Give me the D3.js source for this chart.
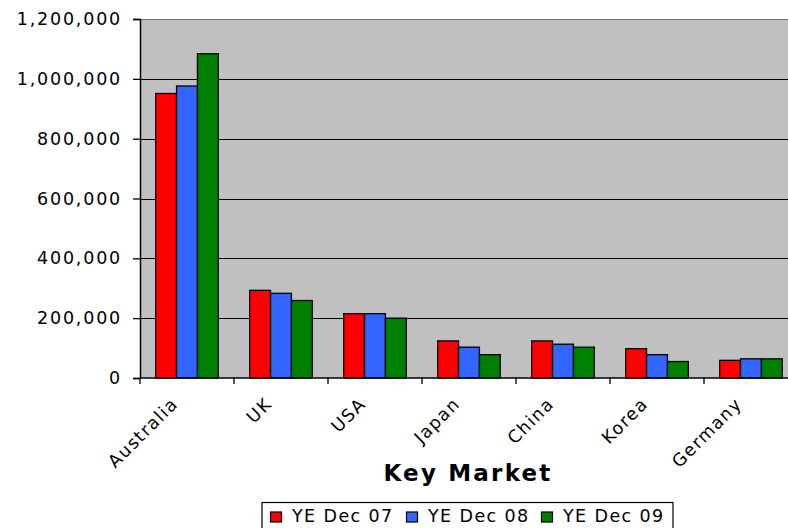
<!DOCTYPE html>
<html>
<head>
<meta charset="utf-8">
<script src="https://cdn.jsdelivr.net/npm/d3@7"></script>
<style>
  html, body { margin: 0; padding: 0; background: #fff; }
  svg { display: block; font-family: "DejaVu Sans", Verdana, sans-serif; }
</style>
</head>
<body>
<svg id="chart" width="788" height="528"></svg>
<script>
// Visitor arrivals by key market, three calendar years
const categories = ["Australia", "UK", "USA", "Japan", "China", "Korea", "Germany"];
const seriesNames = ["YE Dec 07", "YE Dec 08", "YE Dec 09"];
const dec07 = [951000, 293000, 215000, 124000, 124000, 98000, 59000];
const dec08 = [976000, 283000, 215000, 103000, 113000, 78000, 64000];
const dec09 = [1084000, 259000, 200000, 78000, 103000, 55000, 64000];
const yTicks = [0, 200000, 400000, 600000, 800000, 1000000, 1200000];
const colors = ["#ff0000", "#3366ff", "#008000"];

const seriesValues = [dec07, dec08, dec09];

const svg = d3.select("#chart");
const plotLeft = 140, plotRight = 798, plotTop = 19, plotBottom = 378;

const x = d3.scaleBand().domain(categories).range([plotLeft, plotRight])
  .paddingInner(1 / 3).paddingOuter(1 / 6);
const xs = d3.scaleBand().domain(seriesNames).range([0, x.bandwidth()]);
const y = d3.scaleLinear().domain([0, 1200000]).range([plotBottom, plotTop]);

// plot area background
svg.append("rect")
  .attr("x", plotLeft).attr("y", plotTop)
  .attr("width", plotRight - plotLeft).attr("height", plotBottom - plotTop)
  .attr("fill", "#c0c0c0");

// horizontal gridlines
svg.append("g").selectAll("line")
  .data(yTicks.filter(t => t > 0))
  .join("line")
  .attr("x1", plotLeft).attr("x2", plotRight)
  .attr("y1", d => Math.round(y(d)) + 0.5).attr("y2", d => Math.round(y(d)) + 0.5)
  .attr("stroke", d => d === 1200000 ? "#707070" : "#000")
  .attr("stroke-width", 1.2);

// bars
const groups = svg.append("g").selectAll("g")
  .data(categories)
  .join("g")
  .attr("transform", d => `translate(${x(d)},0)`);

groups.selectAll("rect")
  .data((c, i) => seriesNames.map((s, k) => ({ s, k, v: seriesValues[k][i] })))
  .join("rect")
  .attr("x", d => xs(d.s))
  .attr("y", d => y(d.v))
  .attr("width", xs.bandwidth())
  .attr("height", d => y(0) - y(d.v))
  .attr("fill", d => colors[d.k])
  .attr("stroke", "#000")
  .attr("stroke-width", 1.3);

// y axis
const yAxis = d3.axisLeft(y)
  .tickValues(yTicks)
  .tickSize(7)
  .tickPadding(11)
  .tickFormat(d3.format(","));
const gy = svg.append("g")
  .attr("transform", `translate(${plotLeft},0)`)
  .call(yAxis);
gy.select(".domain").attr("stroke", "#000").attr("stroke-width", 1.5);
gy.selectAll(".tick line").attr("stroke", "#000").attr("stroke-width", 1.3);
gy.selectAll(".tick text")
  .attr("font-size", 17.5)
  .attr("font-family", "DejaVu Sans")
  .attr("fill", "#000")
  .attr("letter-spacing", 1.8);

// x axis line and category boundary ticks
svg.append("line")
  .attr("x1", plotLeft).attr("x2", plotRight)
  .attr("y1", plotBottom).attr("y2", plotBottom)
  .attr("stroke", "#000").attr("stroke-width", 1.5);
svg.append("g").selectAll("line")
  .data(categories)
  .join("line")
  .attr("x1", d => x(d) - x.step() * x.paddingInner() / 2)
  .attr("x2", d => x(d) - x.step() * x.paddingInner() / 2)
  .attr("y1", plotBottom).attr("y2", plotBottom + 6)
  .attr("stroke", "#000").attr("stroke-width", 1.3);

// rotated category labels
svg.append("g").selectAll("text")
  .data(categories)
  .join("text")
  .attr("transform", d => `translate(${x(d) + x.bandwidth() / 2 - 8},${plotBottom + 27}) rotate(-45)`)
  .attr("text-anchor", "end")
  .attr("font-size", 17.5)
  .attr("letter-spacing", 1.4)
  .attr("fill", "#000")
  .text(d => d);

// axis title
svg.append("text")
  .attr("x", 468).attr("y", 481)
  .attr("text-anchor", "middle")
  .attr("font-size", 23)
  .attr("font-weight", "bold")
  .attr("letter-spacing", 2.2)
  .attr("fill", "#000")
  .text("Key Market");

// legend
const legend = svg.append("g");
legend.append("rect")
  .attr("x", 262).attr("y", 502.5)
  .attr("width", 411).attr("height", 30)
  .attr("fill", "#fff").attr("stroke", "#000").attr("stroke-width", 1.2);
const legendX = [270, 406, 541];
const items = legend.selectAll("g.item")
  .data(seriesNames)
  .join("g")
  .attr("class", "item")
  .attr("transform", (d, i) => `translate(${legendX[i]},0)`);
items.append("rect")
  .attr("x", 0.5).attr("y", 512)
  .attr("width", 11).attr("height", 10)
  .attr("fill", (d, i) => colors[i])
  .attr("stroke", "#000").attr("stroke-width", 1.2);
items.append("text")
  .attr("x", 22).attr("y", 522)
  .attr("font-size", 17.5)
  .attr("letter-spacing", 1.4)
  .attr("fill", "#000")
  .text(d => d);
</script>
</body>
</html>
